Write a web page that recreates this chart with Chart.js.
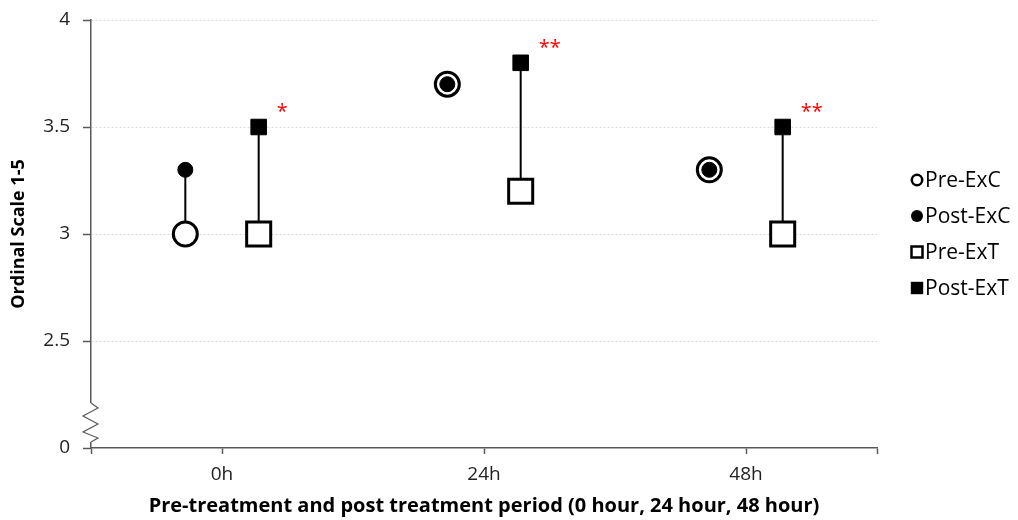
<!DOCTYPE html>
<html>
<head>
<meta charset="utf-8">
<script src="https://cdn.jsdelivr.net/npm/chart.js@4.4.1/dist/chart.umd.min.js"></script>
<style>
  html, body { margin: 0; padding: 0; background: #fff; }
  #wrap { width: 1018px; height: 520px; }
</style>
</head>
<body>
<div id="wrap"><canvas id="scaleChart"></canvas></div>
<script>
// values
const periods = ['0h', '24h', '48h'];
const preExC = [3.0, 3.7, 3.3];
const postExC = [3.3, 3.7, 3.3];
const preExT = [3.0, 3.2, 3.0];
const postExT = [3.5, 3.8, 3.5];
const significance = ['*', '**', '**'];
const yTickValues = [2, 2.5, 3, 3.5, 4];
const yTickLabels = ['0', '2.5', '3', '3.5', '4'];   // axis is broken: bottom tick reads 0

const FONT = '"Open Sans", "Noto Sans", sans-serif';
const AXIS_COLOR = '#595959';
const groupOffset = 0.14;   // control left of the period centre, treatment right

function toPoints(values, side) {
    return values.map((v, i) => ({ x: i + 0.5 + side * groupOffset, y: v }));
}

const datasets = [
    { label: 'Pre-ExC', data: toPoints(preExC, -1), pointStyle: 'circle', pointRadius: 12,
      backgroundColor: '#fff', borderColor: '#000', borderWidth: 3, order: 1 },
    { label: 'Post-ExC', data: toPoints(postExC, -1), pointStyle: 'circle', pointRadius: 7.5,
      backgroundColor: '#000', borderColor: '#000', borderWidth: 1, order: 0 },
    { label: 'Pre-ExT', data: toPoints(preExT, 1), pointStyle: 'rect', pointRadius: 17,
      backgroundColor: '#fff', borderColor: '#000', borderWidth: 3, order: 1 },
    { label: 'Post-ExT', data: toPoints(postExT, 1), pointStyle: 'rect', pointRadius: 11,
      backgroundColor: '#000', borderColor: '#000', borderWidth: 1, order: 0 }
];

// vertical stems joining pre and post of the same group
const stemPlugin = {
    id: 'stems',
    beforeDatasetsDraw(chart) {
        const { ctx, scales: { x, y } } = chart;
        const pairs = [[preExC, postExC, -1], [preExT, postExT, 1]];
        ctx.save();
        ctx.strokeStyle = '#000';
        ctx.lineWidth = 2;
        pairs.forEach(([pre, post, side]) => {
            pre.forEach((v, i) => {
                const px = x.getPixelForValue(i + 0.5 + side * groupOffset);
                ctx.beginPath();
                ctx.moveTo(px, y.getPixelForValue(v));
                ctx.lineTo(px, y.getPixelForValue(post[i]));
                ctx.stroke();
            });
        });
        ctx.restore();
    }
};

// red significance stars beside the Post-ExT squares
const starPlugin = {
    id: 'stars',
    afterDatasetsDraw(chart) {
        const { ctx, scales: { x, y } } = chart;
        ctx.save();
        ctx.fillStyle = '#ff0000';
        ctx.font = '20px ' + FONT;
        ctx.textAlign = 'left';
        ctx.textBaseline = 'alphabetic';
        significance.forEach((s, i) => {
            const px = x.getPixelForValue(i + 0.5 + groupOffset);
            const py = y.getPixelForValue(postExT[i]);
            ctx.fillText(s, px + 18, py - 9);
        });
        ctx.restore();
    }
};

// zigzag break on the y axis between 0 and 2.5
const breakPlugin = {
    id: 'axisBreak',
    afterDraw(chart) {
        const { ctx, chartArea } = chart;
        const x0 = chartArea.left;
        const base = chartArea.bottom;
        const top = base - 45;
        ctx.save();
        ctx.fillStyle = '#fff';
        ctx.fillRect(x0 - 2, top, 4, 39);
        ctx.strokeStyle = AXIS_COLOR;
        ctx.lineWidth = 1.2;
        ctx.beginPath();
        ctx.moveTo(x0, top);
        ctx.lineTo(x0 + 7, top + 5);
        ctx.lineTo(x0 - 8, top + 13);
        ctx.lineTo(x0 + 7, top + 21);
        ctx.lineTo(x0 - 8, top + 29);
        ctx.lineTo(x0 + 7, top + 35);
        ctx.lineTo(x0, top + 39);
        ctx.stroke();
        ctx.restore();
    }
};

// legend on the right, drawn by hand so marker sizes can differ
const legendPlugin = {
    id: 'sideLegend',
    afterDraw(chart) {
        const { ctx, chartArea } = chart;
        const mx = chartArea.right + 40;
        const step = 36;
        const midY = (chartArea.top + chartArea.bottom) / 2;
        ctx.save();
        ctx.font = '21px ' + FONT;
        ctx.textAlign = 'left';
        ctx.textBaseline = 'middle';
        chart.data.datasets.forEach((ds, k) => {
            const my = midY + (k - 1.5) * step;
            const open = ds.backgroundColor === '#fff';
            ctx.lineWidth = 2.5;
            ctx.strokeStyle = '#000';
            ctx.fillStyle = ds.backgroundColor;
            ctx.beginPath();
            if (ds.pointStyle === 'circle') {
                ctx.arc(mx, my, open ? 5.2 : 6, 0, Math.PI * 2);
            } else {
                const h = open ? 5.5 : 6.2;
                ctx.rect(mx - h, my - h, h * 2, h * 2);
            }
            ctx.fill();
            if (open) ctx.stroke();
            ctx.fillStyle = '#000';
            ctx.fillText(ds.label, mx + 8, my + 1);
        });
        ctx.restore();
    }
};

const ctx = document.getElementById('scaleChart').getContext('2d');
new Chart(ctx, {
    type: 'scatter',
    data: { datasets: datasets },
    options: {
        responsive: true,
        maintainAspectRatio: false,
        animation: false,
        layout: { padding: { left: 0, right: 141, top: 19, bottom: 0 } },
        plugins: {
            legend: { display: false },
            tooltip: { enabled: false }
        },
        scales: {
            x: {
                type: 'linear',
                min: 0,
                max: periods.length,
                afterBuildTicks: (scale) => {
                    const vals = [0, ...periods.map((p, i) => i + 0.5), periods.length];
                    scale.ticks = vals.map(v => ({ value: v }));
                },
                afterFit: (scale) => { scale.height = 72; },
                ticks: {
                    autoSkip: false,
                    maxRotation: 0,
                    padding: 9,
                    color: '#222',
                    font: { family: FONT, size: 19 },
                    callback: (value) => periods[value - 0.5] ?? ''
                },
                grid: { drawOnChartArea: false, drawTicks: true, tickLength: 6,
                        tickColor: AXIS_COLOR, tickWidth: 1.5, tickBorderDash: [] },
                border: { color: AXIS_COLOR, width: 1.5 },
                title: {
                    display: true,
                    text: 'Pre-treatment and post treatment period (0 hour, 24 hour, 48 hour)',
                    color: '#000',
                    font: { family: FONT, size: 20, weight: 'bold' },
                    padding: { top: 0, bottom: 2 }
                }
            },
            y: {
                min: 2,
                max: 4,
                afterBuildTicks: (scale) => {
                    scale.ticks = yTickValues.map(v => ({ value: v }));
                },
                afterFit: (scale) => {
                    scale.width = 91;
                    scale.paddingTop = 0;
                    scale.paddingBottom = 0;
                },
                ticks: {
                    padding: 13,
                    color: '#222',
                    font: { family: FONT, size: 19 },
                    callback: (value, index) => yTickLabels[index]
                },
                grid: {
                    color: (c) => (c.tick && c.tick.value === 2) ? 'rgba(0,0,0,0)' : '#d9d9d9',
                    lineWidth: 1,
                    tickLength: 8,
                    tickColor: AXIS_COLOR,
                    tickWidth: 1.5,
                    tickBorderDash: []
                },
                border: { color: AXIS_COLOR, width: 1.5, dash: [2, 2] },
                title: {
                    display: true,
                    text: 'Ordinal Scale 1-5',
                    color: '#000',
                    font: { family: FONT, size: 18, weight: 'bold' },
                    padding: { top: 8, bottom: 0 }
                }
            }
        }
    },
    plugins: [stemPlugin, starPlugin, breakPlugin, legendPlugin]
});
</script>
</body>
</html>
